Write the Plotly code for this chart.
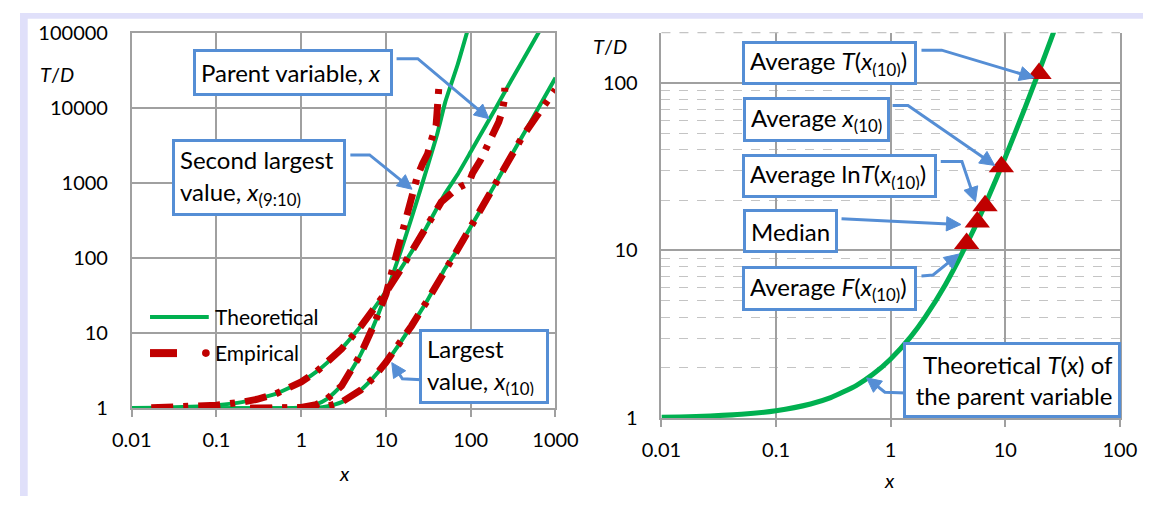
import math
import plotly.graph_objects as go

W, H = 1166, 507
FONT = "Lato"
GREEN = "#00B050"
RED = "#C00000"
BLUE = "#558ED5"
GRID = "#A0A0A0"
MINOR = "#C4C4C4"
FRAME = "#E0E0FA"

# ---------------- data ----------------
# Left panel, theoretical curves
x_parent = [0.01, 0.02, 0.05, 0.1, 0.2, 0.5, 1, 1.5, 2, 3, 5, 7, 10, 15, 20, 30, 50, 70, 100, 150, 200, 300, 500, 700]
T_parent = [1.01, 1.02, 1.051, 1.103, 1.21, 1.56, 2.25, 3.06, 4.0, 6.25, 12.25, 20.25, 36, 72.3, 121, 256, 729, 1296, 2601, 5776, 10201, 23104, 63001, 123201]

x_second = [0.01, 0.1, 0.3, 0.5, 0.7, 1, 1.5, 2, 3, 5, 7, 10, 15, 20, 25, 30, 40, 50, 70, 100]
T_second = [1.0, 1.0, 1.0, 1.001, 1.005, 1.026, 1.127, 1.323, 2.03, 5.16, 11.9, 33.4, 125, 340, 760, 1487, 4374, 11900, 37450, 150800]

x_largest = [0.01, 0.1, 0.5, 1, 1.5, 2, 3, 5, 7, 10, 15, 20, 30, 50, 70, 100, 150, 200, 300, 500, 700, 1000]
T_largest = [1.0, 1.0, 1.0, 1.003, 1.02, 1.06, 1.21, 1.74, 2.52, 4.07, 7.69, 12.6, 26.0, 73.4, 130, 261, 578, 1021, 2311, 6301, 12321, 25101]

# Left panel, empirical curves
x_emp_parent = [0.017, 0.03, 0.05, 0.1, 0.2, 0.3, 0.5, 0.7, 1, 1.5, 2, 3, 5, 7, 10, 15, 20, 30, 45, 60, 75, 95, 105, 130, 156, 185, 214, 235, 250, 252]
T_emp_parent = [1.02, 1.03, 1.05, 1.10, 1.21, 1.32, 1.56, 1.82, 2.25, 3.05, 4.0, 6.2, 12.2, 20.2, 35, 71, 120, 250, 560, 740, 890, 1000, 1350, 2000, 3000, 4300, 6500, 9000, 13000, 18500]

x_emp_second = [0.25, 0.5, 1, 1.5, 2, 3, 5, 7, 10, 14, 19, 23.6, 27, 31, 35, 39, 40, 41, 42]
T_emp_second = [1.0, 1.0, 1.03, 1.12, 1.32, 2.0, 5.2, 12, 33, 140, 520, 1260, 1800, 2450, 4000, 5800, 8500, 13000, 18500]

x_emp_largest = [0.25, 0.5, 1, 1.5, 2, 3, 5, 7, 10, 15, 20, 30, 50, 70, 100, 150, 200, 278, 400, 607, 800, 1000]
T_emp_largest = [1.0, 1.0, 1.003, 1.02, 1.06, 1.21, 1.74, 2.5, 4.1, 7.7, 12.5, 26, 73, 130, 260, 575, 1000, 1960, 4000, 7900, 12000, 17500]

# Right panel, theoretical T(x) of the parent variable
x_right = [0.01, 0.02, 0.05, 0.1, 0.2, 0.3, 0.5, 0.7, 1, 1.5, 2, 3, 5, 7, 10, 15, 20, 25, 30]
T_right = [1.01, 1.02, 1.051, 1.103, 1.21, 1.32, 1.56, 1.82, 2.25, 3.06, 4.0, 6.25, 12.25, 20.25, 36, 72.3, 121, 182, 256]

# Right panel, estimators (triangles)
est_names = ["Average F(x10)", "Median", "Average lnT(x10)", "Average x10", "Average T(x10)"]
x_est = [4.6, 5.7, 6.66, 9.25, 19.7]
T_est = [11.0, 14.8, 18.5, 31.6, 114]

# Tick labels
left_x_ticks = [0.01, 0.1, 1, 10, 100, 1000]
left_x_labels = ["0.01", "0.1", "1", "10", "100", "1000"]
left_y_ticks = [1, 10, 100, 1000, 10000, 100000]
left_y_labels = ["1", "10", "100", "1000", "10000", "100000"]
right_x_ticks = [0.01, 0.1, 1, 10, 100]
right_x_labels = ["0.01", "0.1", "1", "10", "100"]
right_y_ticks = [1, 10, 100]
right_y_labels = ["1", "10", "100"]


def px(x):
    return x / W


def py(y):
    return 1 - y / H


fig = go.Figure()

EMP_DASH = "22px,10px,5px,10px"

for xs, ts in [(x_parent, T_parent), (x_second, T_second), (x_largest, T_largest)]:
    fig.add_trace(go.Scatter(x=xs, y=ts, mode="lines", xaxis="x", yaxis="y",
                             line=dict(color=GREEN, width=4, shape="spline", smoothing=0.5),
                             showlegend=False, hoverinfo="skip"))
for xs, ts in [(x_emp_parent, T_emp_parent), (x_emp_second, T_emp_second), (x_emp_largest, T_emp_largest)]:
    fig.add_trace(go.Scatter(x=xs, y=ts, mode="lines", xaxis="x", yaxis="y",
                             line=dict(color=RED, width=7, dash=EMP_DASH),
                             showlegend=False, hoverinfo="skip"))

fig.add_trace(go.Scatter(x=x_right, y=T_right, mode="lines", xaxis="x2", yaxis="y2",
                         line=dict(color=GREEN, width=5, shape="spline", smoothing=0.5),
                         showlegend=False, hoverinfo="skip"))
fig.add_trace(go.Scatter(x=x_est, y=T_est, mode="markers", xaxis="x2", yaxis="y2",
                         marker=dict(symbol="triangle-up", size=22, color=RED),
                         text=est_names, showlegend=False, cliponaxis=False))

tickfont = dict(family=FONT, size=20, color="black")
axis_common = dict(type="log", showgrid=True, gridcolor=GRID, gridwidth=1.5,
                   showline=True, linecolor=GRID, linewidth=1.5, zeroline=False,
                   tickfont=tickfont, mirror=True, tickmode="array")

fig.update_layout(
    width=W, height=H, autosize=False,
    margin=dict(l=0, r=0, t=0, b=0, pad=0),
    paper_bgcolor="white", plot_bgcolor="white",
    font=dict(family=FONT, color="black"),
    xaxis=dict(axis_common, range=[-2, 3], domain=[px(116), px(556)], anchor="y",
               tickvals=left_x_ticks, ticktext=left_x_labels,
               ticks="outside", ticklen=7, tickcolor=GRID, tickwidth=1.5, ticklabelstandoff=6),
    yaxis=dict(axis_common, range=[0, 5], domain=[py(415), py(20.7)], anchor="x",
               tickvals=left_y_ticks, ticktext=left_y_labels, ticks="", ticklabelstandoff=18),
    xaxis2=dict(axis_common, range=[-2, 2], domain=[px(666), px(1142)], anchor="y2",
                tickvals=right_x_ticks, ticktext=right_x_labels, mirror=False,
                ticks="outside", ticklen=7, tickcolor=GRID, tickwidth=1.5, ticklabelstandoff=6),
    yaxis2=dict(axis_common, range=[0, 2.30103], domain=[py(425), py(20.7)], anchor="x2",
                tickvals=right_y_ticks, ticktext=right_y_labels, ticks="", ticklabelstandoff=18,
                minor=dict(dtick="D1", showgrid=True, gridcolor=MINOR, gridwidth=1.2, griddash="dash", ticks="")),
)

shapes = []
# lavender frame strips
shapes.append(dict(type="rect", xref="paper", yref="paper", x0=0, x1=1, y0=py(6), y1=1,
                   fillcolor=FRAME, line=dict(width=0), layer="below"))
shapes.append(dict(type="rect", xref="paper", yref="paper", x0=0, x1=px(8), y0=0, y1=1,
                   fillcolor=FRAME, line=dict(width=0), layer="below"))
# dashed top edge of right panel
shapes.append(dict(type="line", xref="paper", yref="paper", x0=px(666), x1=px(1142), y0=py(20.7), y1=py(20.7),
                   line=dict(color=MINOR, width=1.2, dash="dash")))

# legend (left panel)
shapes.append(dict(type="line", xref="paper", yref="paper", x0=px(135), x1=px(196), y0=py(319), y1=py(319),
                   line=dict(color=GREEN, width=4)))
shapes.append(dict(type="line", xref="paper", yref="paper", x0=px(135), x1=px(163), y0=py(357), y1=py(357),
                   line=dict(color=RED, width=8)))
shapes.append(dict(type="circle", xref="paper", yref="paper", x0=px(189), x1=px(197), y0=py(361), y1=py(353),
                   fillcolor=RED, line=dict(width=0)))

annotations = []
annotations.append(dict(xref="paper", yref="paper", x=px(200), y=py(319), xanchor="left", yanchor="middle",
                        text="Theoretical", showarrow=False, font=dict(family=FONT, size=21)))
annotations.append(dict(xref="paper", yref="paper", x=px(200), y=py(356), xanchor="left", yanchor="middle",
                        text="Empirical", showarrow=False, font=dict(family=FONT, size=21)))

# axis titles
for (cx, cy, t) in [(38, 64, "<i>T</i>/<i>D</i>"), (613, 35, "<i>T</i>/<i>D</i>"),
                    (337, 483, "<i>x</i>"), (903, 490, "<i>x</i>")]:
    annotations.append(dict(xref="paper", yref="paper", x=px(cx), y=py(cy), xanchor="center", yanchor="middle",
                            text=t, showarrow=False, font=dict(family=FONT, size=20)))

BW, PAD = 3, 5
BOXFONT = dict(family=FONT, size=24, color="black")
boxes = [
    (183, 39, 383, 86, "Parent variable, <i>x</i>", "left"),
    (161, 134, 335, 211, "Second largest<br>value, <i>x</i><sub>(9:10)</sub>", "left"),
    (417, 334, 547, 409, "Largest<br>value, <i>x</i><sub>(10)</sub>", "left"),
    (753, 31, 928, 75, "Average <i>T</i>(<i>x</i><sub>(10)</sub>)", "left"),
    (753, 89, 900, 134, "Average <i>x</i><sub>(10)</sub>", "left"),
    (753, 149, 948, 193, "Average ln<i>T</i>(<i>x</i><sub>(10)</sub>)", "left"),
    (753, 207, 848, 251, "Median", "left"),
    (753, 267, 928, 312, "Average <i>F</i>(<i>x</i><sub>(10)</sub>)", "left"),
    (921, 347, 1139, 423, "Theoretical <i>T</i>(<i>x</i>) of<br>the parent variable", "right"),
]
for (x0, y0, x1, y1, t, al) in boxes:
    annotations.append(dict(xref="paper", yref="paper", x=px((x0 + x1) / 2), y=py((y0 + y1) / 2),
                            xanchor="center", yanchor="middle", text=t, showarrow=False, align=al,
                            valign="middle", width=(x1 - x0) - 2 * (BW + PAD), height=(y1 - y0) - 2 * (BW + PAD),
                            bordercolor=BLUE, borderwidth=BW, borderpad=PAD, bgcolor="white", font=BOXFONT))

# elbow connectors: list of points (pixels), last = arrow tip
connectors = [
    [(391, 48), (413, 48), (487, 111)],
    [(343, 149), (363, 149), (407, 185)],
    [(417, 385), (397, 384), (386, 367)],
    [(936, 39), (957, 39), (1053, 68)],
    [(906, 97), (922, 97), (1012, 160)],
    [(956, 156), (978, 156), (992, 198)],
    [(853, 216), (977, 222)],
    [(936, 276), (948, 275), (975, 253)],
    [(920, 399), (898, 398), (879, 383)],
]
HEAD_L, HEAD_W = 15, 15
for pts in connectors:
    tail, tip = pts[-2], pts[-1]
    dx, dy = tip[0] - tail[0], tip[1] - tail[1]
    n = math.hypot(dx, dy)
    ux, uy = dx / n, dy / n
    bx, by = tip[0] - HEAD_L * ux, tip[1] - HEAD_L * uy
    line_pts = list(pts[:-1]) + [(bx + 2 * ux, by + 2 * uy)]
    path = "M " + " L ".join(f"{px(a):.5f},{py(b):.5f}" for a, b in line_pts)
    shapes.append(dict(type="path", xref="paper", yref="paper", path=path,
                       line=dict(color=BLUE, width=3)))
    c1 = (bx - uy * HEAD_W / 2, by + ux * HEAD_W / 2)
    c2 = (bx + uy * HEAD_W / 2, by - ux * HEAD_W / 2)
    head = (f"M {px(tip[0]):.5f},{py(tip[1]):.5f} L {px(c1[0]):.5f},{py(c1[1]):.5f} "
            f"L {px(c2[0]):.5f},{py(c2[1]):.5f} Z")
    shapes.append(dict(type="path", xref="paper", yref="paper", path=head,
                       fillcolor=BLUE, line=dict(color=BLUE, width=1)))

fig.update_layout(shapes=shapes, annotations=annotations)

post = (
    "var de=document.documentElement;de.style.margin='0';de.style.padding='0';de.style.overflow='hidden';"
    "document.body.style.margin='0';document.body.style.padding='0';document.body.style.overflow='hidden';"
)
fig.write_html("out.html", config={"displayModeBar": False}, post_script=post)
